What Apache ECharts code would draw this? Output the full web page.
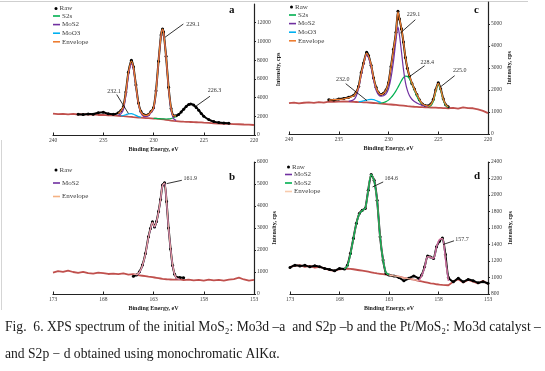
<!DOCTYPE html>
<html><head><meta charset="utf-8">
<script src="https://cdn.jsdelivr.net/npm/echarts@6/dist/echarts.min.js"></script>
<style>html,body{margin:0;padding:0;background:#fff}#c{width:545px;height:371px}</style>
</head><body><div id="c"></div>
<script>
// ---------- Panel a : MoS2 Mo3d ----------
const aE = [240,239.5,239,238.5,238,237.5,237,236.5,236,235.5,235,234.5,234,233.5,233.25,233,232.75,232.5,232.2,232,231.75,231.5,231.25,231,230.75,230.5,230.25,230,229.75,229.5,229.25,229.1,229,228.75,228.5,228.25,228,227.75,227.5,227.25,227,226.75,226.5,226.3,226,225.75,225.5,225.25,225,224.5,224,223.5,223,222.5,222,221.5,221,220.5,220];
const aBg = [2280,2220,2260,2210,2250,2190,2230,2170,2200,2140,2150,2100,2090,2050,2030,2010,1990,1960,1930,1910,1890,1870,1850,1830,1810,1800,1780,1760,1740,1720,1700,1680,1660,1620,1580,1540,1500,1480,1460,1440,1420,1410,1400,1390,1370,1360,1350,1340,1320,1290,1250,1230,1200,1190,1170,1150,1120,1100,1070];
const aRawFrom = 237.5;
const aRaw = [2230,2200,2250,2230,2380,2420,2260,2220,2370,2600,3030,4600,6700,8000,7300,5340,3430,2500,2200,2120,2200,2500,2900,4720,7870,10700,11330,11000,8420,5110,2820,2050,2050,2200,2450,2750,3050,3250,3300,3200,2950,2650,2300,2000,1650,1430,1330,1280,1250];
const aEnvFrom = 233.5;
const aEnv = [2300,2560,3000,4550,6650,7900,7250,5300,3400,2450,2150,2100,2180,2480,2880,4700,7850,10650,11300,10980,8400,5100,2850,2050,2050];
const aMoS2From = 233.5;
const aMoS2 = [2100,2250,2700,4200,6300,7600,7000,5200,3350,2350,2000,1950,2050,2400,2750,4650,7800,10600,11250,10950,8350,5000,2650,1750,1560];
const aS2sFrom = 230;
const aS2s = [1790,1770,1750,1730,1720,1715,1710,1720,1760,1850,1980];
const aMoO3From = 233.25;
const aMoO3 = [2040,2080,2170,2260,2280,2220,2100,1960,1880];
const aPeaks = ['229.1','232.1','226.3'];

// ---------- Panel c : Pt/MoS2 Mo3d ----------
const cE = [240,239.5,239,238.5,238,237.5,237,236.5,236,235.5,235,234.5,234,233.5,233.25,233,232.75,232.5,232.2,232,231.75,231.5,231.25,231,230.75,230.5,230.25,230,229.75,229.5,229.25,229.05,228.9,228.7,228.5,228.3,228.1,227.9,227.65,227.4,227.15,226.9,226.6,226.3,226,225.75,225.5,225.25,225,224.75,224.5,224.25,224,223.5,223,222.5,222,221.5,221,220.5,220];
const cBg = [1400,1430,1390,1420,1440,1410,1450,1430,1470,1460,1470,1480,1470,1460,1455,1450,1445,1440,1435,1430,1420,1410,1400,1390,1380,1370,1360,1350,1340,1330,1320,1310,1305,1295,1285,1275,1265,1255,1245,1238,1232,1226,1220,1214,1210,1205,1200,1195,1190,1185,1180,1175,1170,1190,1150,1210,1180,1170,1120,1050,950];
const cRawFrom = 236;
const cRaw = [1560,1540,1590,1610,1670,1760,1900,2170,2780,3230,3720,3560,3130,2550,2120,1870,1790,1850,2000,2330,3070,3850,4620,5580,5230,4780,4180,3480,2990,2640,2300,2050,1790,1560,1360,1290,1280,1360,1570,2010,2330,2050,1600,1330,1240];
const cEnvFrom = 236;
const cEnv = [1540,1560,1570,1600,1650,1740,1880,2150,2750,3200,3680,3540,3150,2560,2110,1880,1790,1840,1990,2340,3050,3830,4600,5550,5250,4800,4200,3500,3000,2650,2330,2040,1800,1580,1370,1300,1270,1340,1540,1980,2300,2030,1590,1340,1230];
const cMoS2From = 234;
const cMoS2 = [1480,1560,1720,2080,2650,3150,3600,3450,3050,2450,2000,1780,1720,1740,1820,2050,2550,3300,4250,4870,4500,3750,2950,2350,1980,1750,1580,1480,1410,1350,1300,1270,1250];
const cS2sFrom = 231;
const cS2s = [1400,1410,1430,1470,1540,1650,1790,1960,2120,2250,2420,2560,2630,2620,2520,2300,2000,1720,1500,1340,1280,1240,1290,1480,1920,2250,1980,1550,1300,1200];
const cMoO3From = 233;
const cMoO3 = [1460,1480,1510,1540,1560,1570,1560,1520,1470,1430];
const cPeaks = ['229.1','228.4','225.0','232.0'];

// ---------- Panel b : MoS2 S2p ----------
const bE = [173,172.5,172,171.5,171,170.5,170,169.5,169,168.5,168,167.5,167,166.5,166,165.5,165,164.7,164.4,164.1,163.8,163.5,163.3,163.1,162.9,162.7,162.5,162.3,162.1,161.9,161.7,161.5,161.3,161.1,160.9,160.7,160.4,160,159.5,159,158.5,158,157.5,157,156.5,156,155.5,155,154.5,154,153.5,153];
const bBg = [970,1040,1010,1060,1000,960,1010,950,930,970,950,910,930,900,940,880,900,870,850,830,810,790,780,765,750,735,720,705,690,680,670,665,660,655,650,650,660,630,650,620,640,610,650,620,640,610,650,680,740,660,610,640];
const bRawFrom = 165;
const bRaw = [810,861,1012,1315,1843,2600,2980,3280,3050,3300,3750,4300,4950,5060,4200,3000,2050,1300,900,760,745,740];
const bEnvFrom = 165;
const bEnv = [900,880,990,1300,1820,2580,2960,3250,3060,3290,3730,4290,4930,5040,4180,3000,2060,1320,900,720,670];
const bMoS2From = 164.7;
const bMoS2 = [870,975,1290,1810,2570,2950,3240,3050,3280,3720,4280,4920,5030,4170,2990,2050,1310,890,710,665];
const bPeaks = ['161.9'];

// ---------- Panel d : Pt/MoS2 S2p ----------
const dE = [173,172.5,172,171.5,171,170.5,170,169.5,169,168.5,168,167.5,167.2,166.9,166.6,166.3,166,165.7,165.4,165.1,164.8,164.5,164.2,163.9,163.6,163.3,163,162.5,162,161.5,161,160.5,160,159.7,159.4,159.1,158.8,158.5,158.2,157.9,157.6,157.3,157,156.5,156,155.5,155,154.5,154,153.5,153];
const dBg = [1130,1140,1150,1130,1140,1120,1130,1110,1090,1080,1100,1105,1108,1104,1100,1094,1088,1082,1076,1070,1063,1056,1050,1045,1040,1035,1030,1020,1010,995,985,975,960,952,945,938,930,925,918,913,910,908,906,950,980,940,970,950,930,960,920];
const dRawFrom = 173;
const dRaw = [1122,1150,1140,1147,1130,1143,1130,1110,1098,1082,1110,1102,1150,1290,1473,1654,1775,1815,1836,2057,2250,2178,1936,1493,1211,1050,1030,1018,1000,961,990,1018,990,1030,1130,1260,1250,1230,1372,1440,1480,1280,1000,950,990,950,977,961,937,950,929];
const dGreenFrom = 167.5;
const dGreen = [1105,1140,1280,1470,1650,1770,1810,1840,2050,2250,2170,1930,1490,1210,1060,1035];
const dPurpleFrom = 160;
const dPurple = [960,1020,1120,1250,1245,1230,1370,1460,1470,1220,960];
const dEnvFrom = 167.5;
const dEnv = [1105,1140,1285,1470,1650,1772,1812,1838,2052,2250,2172,1932,1492,1212,1058,1032,1020,1010,995,985,975,962,1022,1122,1252,1247,1232,1372,1462,1472,1222,962];
const dPeaks = ['164.6','157.7'];

// ---------- helpers ----------
const F = "'Liberation Serif','Times New Roman',serif";
function pairs(E, vals, from) {
  const s = (from === undefined) ? 0 : E.indexOf(from);
  const out = [];
  vals.forEach((v, i) => { if (v !== null && s + i < E.length) out.push([E[s + i], v]); });
  return out;
}
function ser(name, gi, data, color, width, z, extra) {
  return Object.assign({
    type: 'line', name, xAxisIndex: gi, yAxisIndex: gi, data,
    showSymbol: false, smooth: 0.3, z,
    lineStyle: { color, width }, itemStyle: { color },
    emphasis: { disabled: true }, animation: false
  }, extra || {});
}
function rawSer(gi, data, notes) {
  return ser('Raw', gi, data, '#000', 2, 2, {
    showSymbol: true, showAllSymbol: true, symbol: 'circle', symbolSize: 3, smooth: 0.2,
    markLine: {
      silent: true, symbol: 'none', animation: false,
      lineStyle: { color: '#000', width: 0.8, type: 'solid' }, label: { show: false },
      data: notes.map(n => [{ coord: n.a }, { coord: n.b }])
    },
    markPoint: {
      silent: true, symbol: 'circle', symbolSize: 0.1, animation: false,
      itemStyle: { color: 'rgba(0,0,0,0)' },
      label: { show: true, position: 'inside', formatter: '{b}', fontFamily: F, fontSize: 6, color: '#333' },
      data: notes.map(n => ({ name: n.t, coord: n.p }))
    }
  });
}
function bgSer(gi, data) { return ser('Background', gi, data, '#c0504d', 1.8, 1, { smooth: false }); }

function xAx(gi, min, max) {
  return {
    type: 'value', gridIndex: gi, inverse: true, min, max, interval: 5,
    name: 'Binding Energy, eV', nameLocation: 'middle', nameGap: 11,
    nameTextStyle: { fontFamily: F, fontSize: 6, fontWeight: 'bold', color: '#222' },
    axisLine: { onZero: false, lineStyle: { color: '#222', width: 1.2 } },
    axisTick: { inside: true, length: 2.5, lineStyle: { color: '#222' } },
    axisLabel: { fontFamily: F, fontSize: 5.5, color: '#404040', margin: 3, formatter: v => String(v) },
    splitLine: { show: false }
  };
}
function yAx(gi, min, max, interval, gap, showMax) {
  return {
    type: 'value', gridIndex: gi, position: 'right', min, max, interval,
    name: 'Intensity, cps', nameLocation: 'middle', nameRotate: 90, nameGap: gap,
    nameTextStyle: { fontFamily: F, fontSize: 6, fontWeight: 'bold', color: '#222' },
    axisLine: { show: true, onZero: false, lineStyle: { color: '#222', width: 1.2 } },
    axisTick: { show: true, length: 2, lineStyle: { color: '#222' } },
    axisLabel: { fontFamily: F, fontSize: 5.5, color: '#404040', margin: 3, showMaxLabel: showMax, formatter: v => String(v) },
    splitLine: { show: false }
  };
}
const legText = { fontFamily: F, fontSize: 7, color: '#404040', lineHeight: 8, padding: [0, 0, 0, -3] };
function rawLegend(left, top) {
  return { left, top, orient: 'vertical', padding: 0, selectedMode: false, itemWidth: 3, itemHeight: 3,
    icon: 'circle', data: [{ name: 'Raw', itemStyle: { color: '#000' } }], textStyle: legText };
}
function lineLegend(left, top, gap, items) {
  return { left, top, orient: 'vertical', padding: 0, selectedMode: false, itemWidth: 7, itemHeight: 1.6,
    itemGap: gap, icon: 'rect',
    data: items.map(it => ({ name: it[0], icon: 'rect', itemStyle: { color: it[1] } })), textStyle: legText };
}
function letter(t, left, top) {
  return { text: t, left, top, padding: 0, textStyle: { fontFamily: F, fontSize: 11, fontWeight: 'bold', color: '#111' } };
}

const GREEN = '#00b050', PURPLE = '#7030a0', CYAN = '#00b0f0', ORANGE = '#ed7d31';

const option = {
  animation: false,
  backgroundColor: '#fff',
  grid: [
    { left: 53, right: 291, top: 4, bottom: 236 },
    { left: 289, right: 57, top: 2, bottom: 237 },
    { left: 53, right: 291, top: 162, bottom: 77 },
    { left: 290, right: 57, top: 162, bottom: 77 }
  ],
  xAxis: [xAx(0, 220, 240), xAx(1, 220, 240), xAx(2, 153, 173), xAx(3, 153, 173)],
  yAxis: [yAx(0, 0, 14000, 2000, 21, false), yAx(1, 0, 6000, 1000, 18, false),
          yAx(2, 0, 6000, 1000, 17, true), yAx(3, 800, 2400, 200, 19, true)],
  title: [letter('a', 229, 5), letter('c', 474, 5), letter('b', 229, 172), letter('d', 474, 171)],
  legend: [
    rawLegend(54.5, 4.5),
    lineLegend(53, 12, 0.6, [['S2s', GREEN], ['MoS2', PURPLE], ['MoO3', CYAN], ['Envelope', ORANGE]]),
    rawLegend(290, 3),
    lineLegend(289, 11, 0.6, [['S2s', GREEN], ['MoS2', PURPLE], ['MoO3', CYAN], ['Envelope', ORANGE]]),
    rawLegend(54.5, 166),
    lineLegend(53, 179, 5.5, [['MoS2', PURPLE], ['Envelope', '#f4b183']]),
    rawLegend(287, 163),
    lineLegend(285, 170.5, 0.5, [['MoS2', PURPLE], ['MoS2 ', GREEN], ['Envelope', '#f8cbad']])
  ],
  series: [
    // a
    bgSer(0, pairs(aE, aBg)),
    rawSer(0, pairs(aE, aRaw, aRawFrom), [
      { t: aPeaks[0], p: [226.07, 11788], a: [227.03, 11862], b: [228.86, 10440] },
      { t: aPeaks[1], p: [233.93, 4673], a: [233.66, 4322], b: [232.5, 2305] },
      { t: aPeaks[2], p: [223.93, 4779], a: [224.38, 4142], b: [225.87, 3006] }
    ]),
    ser('S2s', 0, pairs(aE, aS2s, aS2sFrom), GREEN, 1.2, 3),
    ser('MoS2', 0, pairs(aE, aMoS2, aMoS2From), PURPLE, 1.2, 3),
    ser('MoO3', 0, pairs(aE, aMoO3, aMoO3From), CYAN, 1.2, 3),
    ser('Envelope', 0, pairs(aE, aEnv, aEnvFrom), ORANGE, 1.3, 3),
    // c
    bgSer(1, pairs(cE, cBg)),
    rawSer(1, pairs(cE, cRaw, cRawFrom), [
      { t: cPeaks[0], p: [227.5, 5424], a: [227.3, 5196], b: [228.81, 4590] },
      { t: cPeaks[1], p: [226.1, 3257], a: [226.37, 3106], b: [227.94, 2591] },
      { t: cPeaks[2], p: [222.85, 2894], a: [223.35, 2651], b: [224.79, 2136] },
      { t: cPeaks[3], p: [234.61, 2500], a: [234.3, 2288], b: [232.16, 1515] }
    ]),
    ser('S2s', 1, pairs(cE, cS2s, cS2sFrom), GREEN, 1.2, 3),
    ser('MoS2', 1, pairs(cE, cMoS2, cMoS2From), PURPLE, 1.2, 3),
    ser('MoO3', 1, pairs(cE, cMoO3, cMoO3From), CYAN, 1.2, 3),
    ser('Envelope', 1, pairs(cE, cEnv, cEnvFrom), ORANGE, 1.3, 3),
    // b
    bgSer(2, pairs(bE, bBg)),
    rawSer(2, pairs(bE, bRaw, bRawFrom), [
      { t: bPeaks[0], p: [159.35, 5243], a: [160.18, 5168], b: [161.7, 5016] }
    ]),
    ser('MoS2', 2, pairs(bE, bMoS2, bMoS2From), PURPLE, 1.2, 3),
    ser('Envelope', 2, pairs(bE, bEnv, bEnvFrom), '#e8a0a0', 1.3, 3),
    // d
    bgSer(3, pairs(dE, dBg)),
    rawSer(3, pairs(dE, dRaw, dRawFrom), [
      { t: dPeaks[0], p: [162.78, 2198], a: [163.59, 2158], b: [164.66, 2098] },
      { t: dPeaks[1], p: [155.62, 1461], a: [156.43, 1445], b: [157.54, 1400] }
    ]),
    ser('Envelope', 3, pairs(dE, dEnv, dEnvFrom), '#f4b8a0', 1.2, 3),
    ser('MoS2 ', 3, pairs(dE, dGreen, dGreenFrom), GREEN, 1.2, 3),
    ser('MoS2', 3, pairs(dE, dPurple, dPurpleFrom), '#c060a0', 1.2, 3)
  ],
  graphic: [
    { type: 'line', shape: { x1: 0, y1: 1.5, x2: 528, y2: 1.5 }, style: { stroke: '#cfcfcf', lineWidth: 1 }, silent: true },
    { type: 'line', shape: { x1: 1.5, y1: 140, x2: 1.5, y2: 310 }, style: { stroke: '#d5d5d5', lineWidth: 1 }, silent: true },
    { type: 'text', left: 5, top: 320, silent: true,
      style: { text: 'Fig.  6. XPS spectrum of the initial MoS\u2082: Mo3d \u2013a  and S2p \u2013b and the Pt/MoS\u2082: Mo3d catalyst \u2013', font: '13.6px ' + F, fill: '#1a1a1a' } },
    { type: 'text', left: 5, top: 347, silent: true,
      style: { text: 'and S2p \u2212 d obtained using monochromatic AlK\u03b1.', font: '13.6px ' + F, fill: '#1a1a1a' } }
  ]
};
const chart = echarts.init(document.getElementById('c'), null, { renderer: 'canvas' });
chart.setOption(option);
</script>
</body></html>
